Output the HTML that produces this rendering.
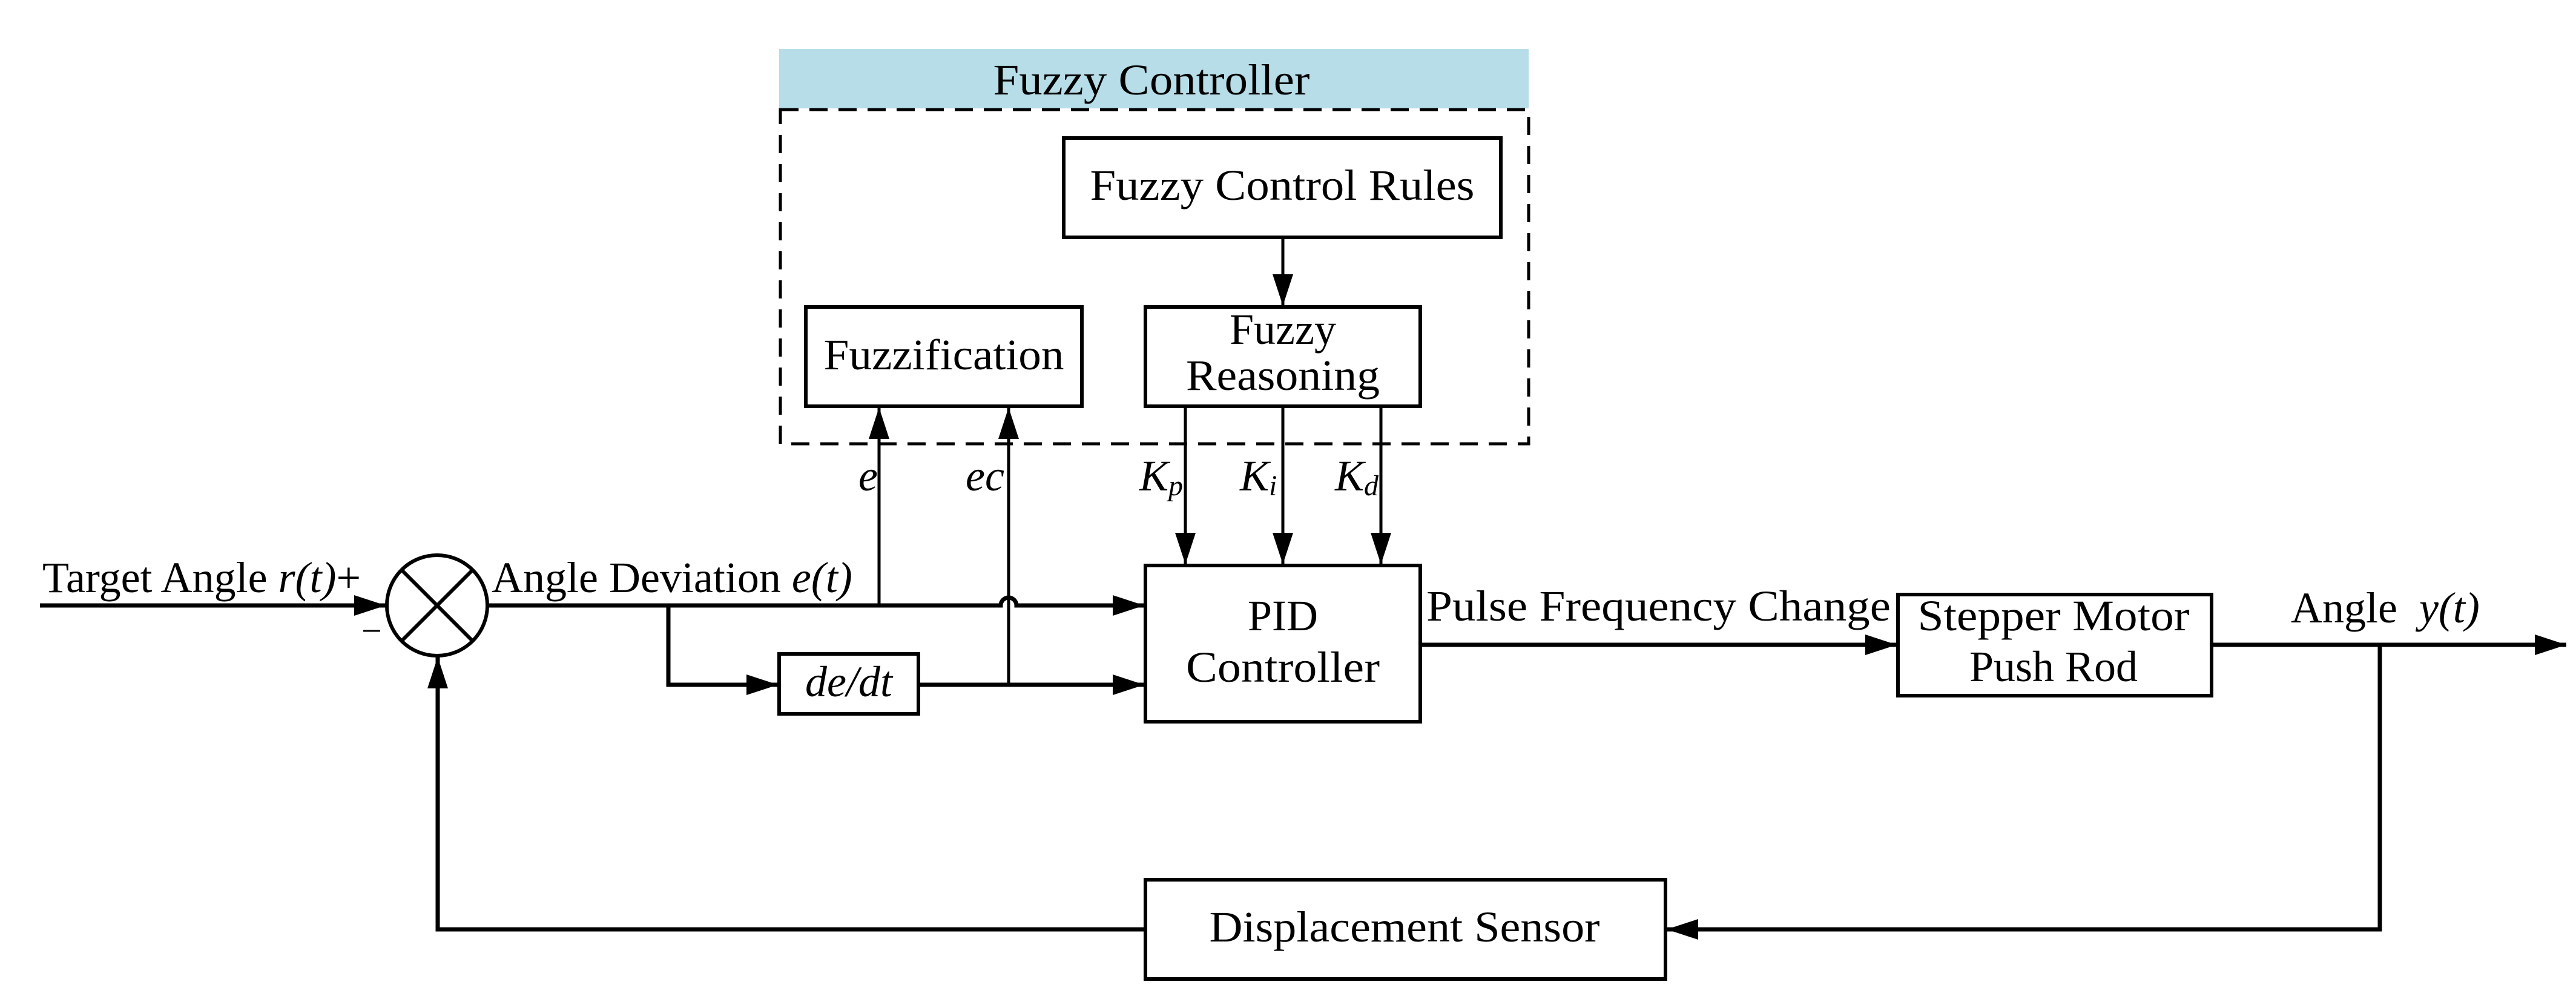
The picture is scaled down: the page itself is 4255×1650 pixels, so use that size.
<!DOCTYPE html>
<html><head><meta charset="utf-8"><style>html,body{margin:0;padding:0;background:#fff}svg{display:block}</style></head>
<body>
<svg width="4255" height="1650" viewBox="0 0 4255 1650" xmlns="http://www.w3.org/2000/svg" font-family="'Liberation Serif', serif" font-size="72">
<defs>
<marker id="a" viewBox="0 0 52 34" refX="52" refY="17" markerWidth="52" markerHeight="34" markerUnits="userSpaceOnUse" orient="auto"><path d="M0 0 L52 17 L0 34 Z" fill="#000"/></marker>
</defs>
<rect x="1287" y="81" width="1238" height="98" fill="#b6dde8"/>
<text x="1902" y="156" text-anchor="middle" textLength="523" lengthAdjust="spacingAndGlyphs">Fuzzy Controller</text>
<rect x="1289" y="181" width="1236" height="552" fill="none" stroke="#000" stroke-width="5" stroke-dasharray="30,18"/>
<g fill="none" stroke="#000" stroke-width="6">
<rect x="1757" y="228" width="722" height="164"/>
<rect x="1331" y="507" width="456" height="164"/>
<rect x="1892" y="507" width="454" height="164"/>
<rect x="1892" y="934" width="454" height="258"/>
<rect x="1287" y="1080" width="230" height="99"/>
<rect x="3135" y="982" width="518" height="167"/>
<rect x="1892" y="1453" width="859" height="164"/>
<ellipse cx="722" cy="1000" rx="83" ry="83"/>
<line x1="663" y1="941" x2="781" y2="1059"/><line x1="781" y1="941" x2="663" y2="1059"/>
</g>
<g stroke="#000" stroke-width="7" fill="none">
<line x1="66" y1="1000" x2="637" y2="1000" marker-end="url(#a)"/>
<path d="M805 1000 H1653 a13 13 0 0 1 26 0 H1890" marker-end="url(#a)"/>
<path d="M1104 1000 V1131 H1285" marker-end="url(#a)"/>
<line x1="1517" y1="1131" x2="1890" y2="1131" marker-end="url(#a)"/>
<line x1="2346" y1="1065" x2="3133" y2="1065" marker-end="url(#a)"/>
<line x1="3653" y1="1065" x2="4239" y2="1065" marker-end="url(#a)"/>
<path d="M3931 1065 V1535 H2753" marker-end="url(#a)"/>
<path d="M1892 1535 H723 V1085" marker-end="url(#a)"/>
</g>
<g stroke="#000" stroke-width="5" fill="none">
<line x1="2119" y1="392" x2="2119" y2="505" marker-end="url(#a)"/>
<line x1="1452" y1="1000" x2="1452" y2="673" marker-end="url(#a)"/>
<line x1="1666" y1="1131" x2="1666" y2="673" marker-end="url(#a)"/>
<line x1="1958" y1="671" x2="1958" y2="932" marker-end="url(#a)"/>
<line x1="2119" y1="671" x2="2119" y2="932" marker-end="url(#a)"/>
<line x1="2281" y1="671" x2="2281" y2="932" marker-end="url(#a)"/>
</g>
<g fill="#000">
<text x="2118" y="330" text-anchor="middle" textLength="635" lengthAdjust="spacingAndGlyphs">Fuzzy Control Rules</text>
<text x="1559" y="610" text-anchor="middle" textLength="397" lengthAdjust="spacingAndGlyphs">Fuzzification</text>
<text x="2119" y="568" text-anchor="middle">Fuzzy</text>
<text x="2119" y="644" text-anchor="middle" textLength="320" lengthAdjust="spacingAndGlyphs">Reasoning</text>
<text x="2119" y="1041" text-anchor="middle">PID</text>
<text x="2119" y="1126" text-anchor="middle" textLength="320" lengthAdjust="spacingAndGlyphs">Controller</text>
<text x="1402" y="1150" text-anchor="middle" font-style="italic">de/dt</text>
<text x="3392" y="1041" text-anchor="middle" textLength="449" lengthAdjust="spacingAndGlyphs">Stepper Motor</text>
<text x="3392" y="1125" text-anchor="middle">Push Rod</text>
<text x="2320" y="1555" text-anchor="middle" textLength="645" lengthAdjust="spacingAndGlyphs">Displacement Sensor</text>
<text x="2356" y="1025" textLength="767" lengthAdjust="spacingAndGlyphs">Pulse Frequency Change</text>
<text x="3784" y="1028">Angle <tspan font-style="italic" dx="18">y(t)</tspan></text>
<text x="70" y="978">Target Angle <tspan font-style="italic">r(t)</tspan>+</text>
<text x="597" y="1062" font-size="60">−</text>
<text x="812" y="978">Angle Deviation <tspan font-style="italic">e(t)</tspan></text>
<text x="1418" y="810" font-style="italic">e</text>
<text x="1595" y="810" font-style="italic">ec</text>
<text x="1882" y="810" font-style="italic">K<tspan font-size="48" dy="8">p</tspan></text>
<text x="2048" y="810" font-style="italic">K<tspan font-size="48" dy="8">i</tspan></text>
<text x="2205" y="810" font-style="italic">K<tspan font-size="48" dy="8">d</tspan></text>
</g>
</svg>
</body></html>
